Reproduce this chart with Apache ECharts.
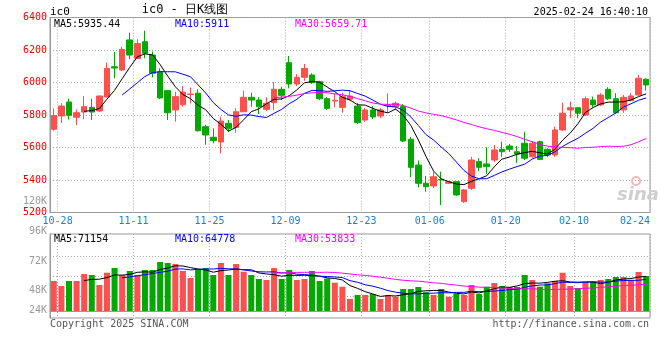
<!DOCTYPE html>
<html><head><meta charset="utf-8">
<script src="https://cdn.jsdelivr.net/npm/echarts@6/dist/echarts.min.js"></script>
<style>html,body{margin:0;padding:0;background:#fff}#c{width:660px;height:360px}</style>
</head><body><div id="c"></div>
<script>
const dates = ['2024-10-28','2024-10-29','2024-10-30','2024-10-31','2024-11-01',
'2024-11-04','2024-11-05','2024-11-06','2024-11-07','2024-11-08',
'2024-11-11','2024-11-12','2024-11-13','2024-11-14','2024-11-15',
'2024-11-18','2024-11-19','2024-11-20','2024-11-21','2024-11-22',
'2024-11-25','2024-11-26','2024-11-27','2024-11-28','2024-11-29',
'2024-12-02','2024-12-03','2024-12-04','2024-12-05','2024-12-06',
'2024-12-09','2024-12-10','2024-12-11','2024-12-12','2024-12-13',
'2024-12-16','2024-12-17','2024-12-18','2024-12-19','2024-12-20',
'2024-12-23','2024-12-24','2024-12-25','2024-12-26','2024-12-27',
'2024-12-30','2024-12-31','2025-01-02','2025-01-03',
'2025-01-06','2025-01-07','2025-01-08','2025-01-09','2025-01-10',
'2025-01-13','2025-01-14','2025-01-15','2025-01-16','2025-01-17',
'2025-01-20','2025-01-21','2025-01-22','2025-01-23','2025-01-24',
'2025-01-27','2025-02-05','2025-02-06','2025-02-07',
'2025-02-10','2025-02-11','2025-02-12','2025-02-13','2025-02-14',
'2025-02-17','2025-02-18','2025-02-19','2025-02-20','2025-02-21',
'2025-02-24'];
const opens = [5712,5794,5880,5786,5818,5847,5825,5911,6097,6077,6262,6148,6251,6169,6066,5950,5831,5863,5926,5934,
5728,5663,5634,5749,5724,5820,5909,5892,5835,5876,5958,6122,5991,6032,6046,6005,5900,5886,5847,5897,
5855,5769,5831,5794,5858,5851,5852,5651,5492,5380,5363,5404,5380,5390,5267,5349,5513,5499,5523,5589,
5609,5574,5626,5543,5636,5589,5554,5708,5831,5845,5800,5892,5862,5958,5900,5831,5888,5923,6020];
const closes = [5797,5855,5798,5814,5851,5818,5917,6087,6089,6204,6169,6240,6180,6057,5905,5814,5913,5941,5929,5703,
5677,5642,5763,5718,5820,5909,5892,5851,5872,5958,5921,5991,6032,6087,5999,5900,5841,5890,5913,5917,
5753,5831,5788,5831,5862,5872,5640,5478,5380,5359,5420,5400,5390,5308,5339,5523,5478,5482,5585,5574,
5589,5560,5534,5626,5527,5554,5708,5811,5845,5811,5900,5862,5923,5900,5814,5909,5917,6026,5985];
const highs = [5840,5872,5900,5835,5917,5900,5920,6122,6188,6220,6306,6266,6319,6190,6087,5954,5943,5978,5970,5958,
5740,5718,5790,5769,5841,5950,5937,5909,5909,6003,5974,6163,6052,6114,6057,6011,5911,5929,5937,5954,
5874,5843,5855,5843,5934,5882,5868,5665,5519,5425,5449,5451,5394,5394,5345,5543,5534,5601,5615,5636,
5622,5609,5697,5640,5642,5595,5728,5876,5882,5849,5913,5913,5934,5971,5934,5923,5934,6046,6026];
const lows = [5703,5751,5772,5738,5774,5769,5818,5908,6026,6071,6143,6146,6149,6032,5898,5769,5759,5851,5872,5698,
5617,5626,5564,5695,5691,5818,5851,5806,5825,5831,5892,5964,5978,6011,5991,5892,5831,5847,5814,5889,
5745,5757,5775,5782,5818,5831,5634,5417,5355,5328,5351,5246,5375,5302,5259,5339,5455,5437,5511,5543,
5572,5505,5523,5535,5523,5542,5543,5702,5780,5780,5794,5847,5855,5892,5806,5814,5886,5917,5950];
const volumes = [61200,51000,61200,61200,75480,73440,53040,78132,87720,73440,81600,73440,83640,83640,99960,97920,95880,81600,67320,85680,
87720,73440,97920,73440,95880,80172,73440,65280,63240,87720,65280,83640,63240,65280,81600,61200,66300,57732,49572,24480,
32640,32640,34680,24480,32640,29172,44880,44880,48960,38148,32640,44880,29172,34680,32640,53040,34680,49572,57120,51000,
48960,48960,73440,63240,49572,56508,61200,78132,51000,46920,59160,59160,63240,65280,69360,69360,63240,79560,71400];
const xTickLabels = ['10-28','11-11','11-25','12-09','12-23','01-06','01-20','02-10','02-24'];
const volTickLabels = ['24K','48K','72K','96K','120K'];
const volTickPos = [1,21,50,80,110];
const priceLegend = ['MA5:5935.44','MA10:5911','MA30:5659.71'];
const volLegend = ['MA5:71154','MA10:64778','MA30:53833'];

const N = dates.length;
const md = dates.map(d => d.slice(5));
const tickIdx = xTickLabels.map(l => md.indexOf(l));
const tickSet = new Set(tickIdx);
const tickValues = tickIdx.map(i => i + 1);
const labelOf = {}; tickValues.forEach((v, k) => labelOf[v] = xTickLabels[k]);
const volLabelOf = {}; volTickPos.forEach((v, k) => volLabelOf[v] = volTickLabels[k]);

function ma(arr, n) {
  return arr.map((_, i) => {
    if (i < n - 1) return '-';
    let s = 0; for (let j = i - n + 1; j <= i; j++) s += arr[j];
    return +(s / n).toFixed(2);
  });
}
const kData = opens.map((o, i) => [o, closes[i], lows[i], highs[i]]);
const UP = '#ff5050', DOWN = '#00a800';
const volData = volumes.map((v, i) => ({value: v, itemStyle: {color: closes[i] >= opens[i] ? UP : DOWN}}));

const MONO = '"DejaVu Sans Mono", monospace';
const GRID_C = '#aaaaaa';
const dotted = {show: true, lineStyle: {color: GRID_C, type: [1, 2], width: 1}};
const splitFn = (i) => tickSet.has(i - 1);

function txt(x, y, s, color, align, size) {
  return {type: 'text', x: x, y: y, silent: true, z: 100,
    style: {text: s, fill: color, font: (size || 10) + 'px ' + MONO,
      textAlign: align || 'left', align: align || 'left', textVerticalAlign: 'middle', verticalAlign: 'middle'}};
}

const chart = echarts.init(document.getElementById('c'), null, {renderer: 'canvas'});
chart.setOption({
  animation: false,
  backgroundColor: '#fff',
  grid: [
    {left: 50, top: 17.5, width: 600, height: 195, show: true, borderColor: '#999', borderWidth: 1, backgroundColor: 'transparent'},
    {left: 50, top: 234, width: 600, height: 84, show: true, borderColor: '#999', borderWidth: 1, backgroundColor: 'transparent'},
    {left: 50, top: 236, width: 600, height: 80},
    {left: 50, top: 201, width: 600, height: 110}
  ],
  xAxis: [
    {type: 'category', gridIndex: 0, data: dates, boundaryGap: true,
      axisLine: {lineStyle: {color: '#999'}}, axisTick: {show: false}, axisLabel: {show: false},
      splitLine: Object.assign({interval: splitFn}, dotted)},
    {type: 'value', gridIndex: 0, min: 0, max: N, position: 'bottom',
      axisLine: {show: false}, axisTick: {show: false}, splitLine: {show: false},
      axisLabel: {customValues: tickValues, color: '#1a7fd4', fontFamily: MONO, fontSize: 10, margin: 4,
        formatter: (v) => v === N ? '{r|' + labelOf[v] + '}' : labelOf[v] || '',
        rich: {r: {color: '#1a7fd4', fontFamily: MONO, fontSize: 10, padding: [0, 30, 0, 0]}}}},
    {type: 'category', gridIndex: 1, data: dates, boundaryGap: true,
      axisLine: {lineStyle: {color: '#999'}}, axisTick: {show: false}, axisLabel: {show: false},
      splitLine: Object.assign({interval: splitFn}, dotted)},
    {type: 'value', gridIndex: 2, show: false, min: 0, max: 1},
    {type: 'value', gridIndex: 3, show: false, min: 0, max: 1}
  ],
  yAxis: [
    {type: 'value', gridIndex: 0, min: 5200, max: 6400, interval: 200,
      axisLine: {show: true, lineStyle: {color: '#999'}}, axisTick: {show: false},
      axisLabel: {color: '#ee0000', fontFamily: MONO, fontSize: 10, margin: 3, formatter: (v) => String(v)},
      splitLine: dotted},
    {type: 'value', gridIndex: 1, min: -14280, max: 157080,
      axisLine: {show: true, lineStyle: {color: '#999'}}, axisTick: {show: false},
      axisLabel: {show: false}, splitLine: {show: false}},
    {type: 'value', gridIndex: 2, min: 0, max: 4, interval: 1,
      axisLine: {show: false}, axisTick: {show: false}, axisLabel: {show: false},
      splitLine: {show: true, showMinLine: false, showMaxLine: false, lineStyle: {color: GRID_C, type: [1, 2], width: 1}}},
    {type: 'value', gridIndex: 3, min: 0, max: 110,
      axisLine: {show: false}, axisTick: {show: false}, splitLine: {show: false},
      axisLabel: {customValues: volTickPos, color: '#999', fontFamily: MONO, fontSize: 10, margin: 3,
        formatter: (v) => volLabelOf[v] || ''}}
  ],
  series: [
    {type: 'candlestick', xAxisIndex: 0, yAxisIndex: 0, data: kData, barWidth: 6,
      itemStyle: {color: UP, color0: DOWN, borderColor: UP, borderColor0: DOWN, borderWidth: 1}},
    {type: 'line', xAxisIndex: 0, yAxisIndex: 0, data: ma(closes, 5), symbol: 'none', lineStyle: {color: '#000', width: 1}},
    {type: 'line', xAxisIndex: 0, yAxisIndex: 0, data: ma(closes, 10), symbol: 'none', lineStyle: {color: '#0000ff', width: 1}},
    {type: 'line', xAxisIndex: 0, yAxisIndex: 0, data: ma(closes, 30), symbol: 'none', lineStyle: {color: '#ff00ff', width: 1}},
    {type: 'bar', xAxisIndex: 2, yAxisIndex: 1, data: volData, barWidth: 6},
    {type: 'line', xAxisIndex: 2, yAxisIndex: 1, data: ma(volumes, 5), symbol: 'none', lineStyle: {color: '#000', width: 1}},
    {type: 'line', xAxisIndex: 2, yAxisIndex: 1, data: ma(volumes, 10), symbol: 'none', lineStyle: {color: '#0000ff', width: 1}},
    {type: 'line', xAxisIndex: 2, yAxisIndex: 1, data: ma(volumes, 30), symbol: 'none', lineStyle: {color: '#ff00ff', width: 1}}
  ],
  graphic: [
    txt(50, 12, 'ic0', '#000', 'left', 11),
    txt(185, 10, 'ic0 - 日K线图', '#000', 'center', 12),
    txt(648, 12, '2025-02-24 16:40:10', '#000', 'right', 10),
    txt(54, 24, priceLegend[0], '#000'),
    txt(175, 24, priceLegend[1], '#0000ff'),
    txt(295, 24, priceLegend[2], '#ff00ff'),
    txt(54, 239, volLegend[0], '#000'),
    txt(175, 239, volLegend[1], '#0000ff'),
    txt(295, 239, volLegend[2], '#ff00ff'),
    txt(50, 324, 'Copyright 2025 SINA.COM', '#555'),
    txt(649, 324, 'http://finance.sina.com.cn', '#555', 'right'),
    {type: 'text', x: 617, y: 195, silent: true, z: 1,
      style: {text: 'sina', fill: '#cfcfcf', font: 'italic bold 18px "DejaVu Sans"', textVerticalAlign: 'middle', verticalAlign: 'middle'}},
    {type: 'circle', shape: {cx: 636, cy: 181, r: 4}, silent: true, z: 1,
      style: {fill: 'none', stroke: '#f2b8b8', lineWidth: 2}}
  ]
});
</script></body></html>
